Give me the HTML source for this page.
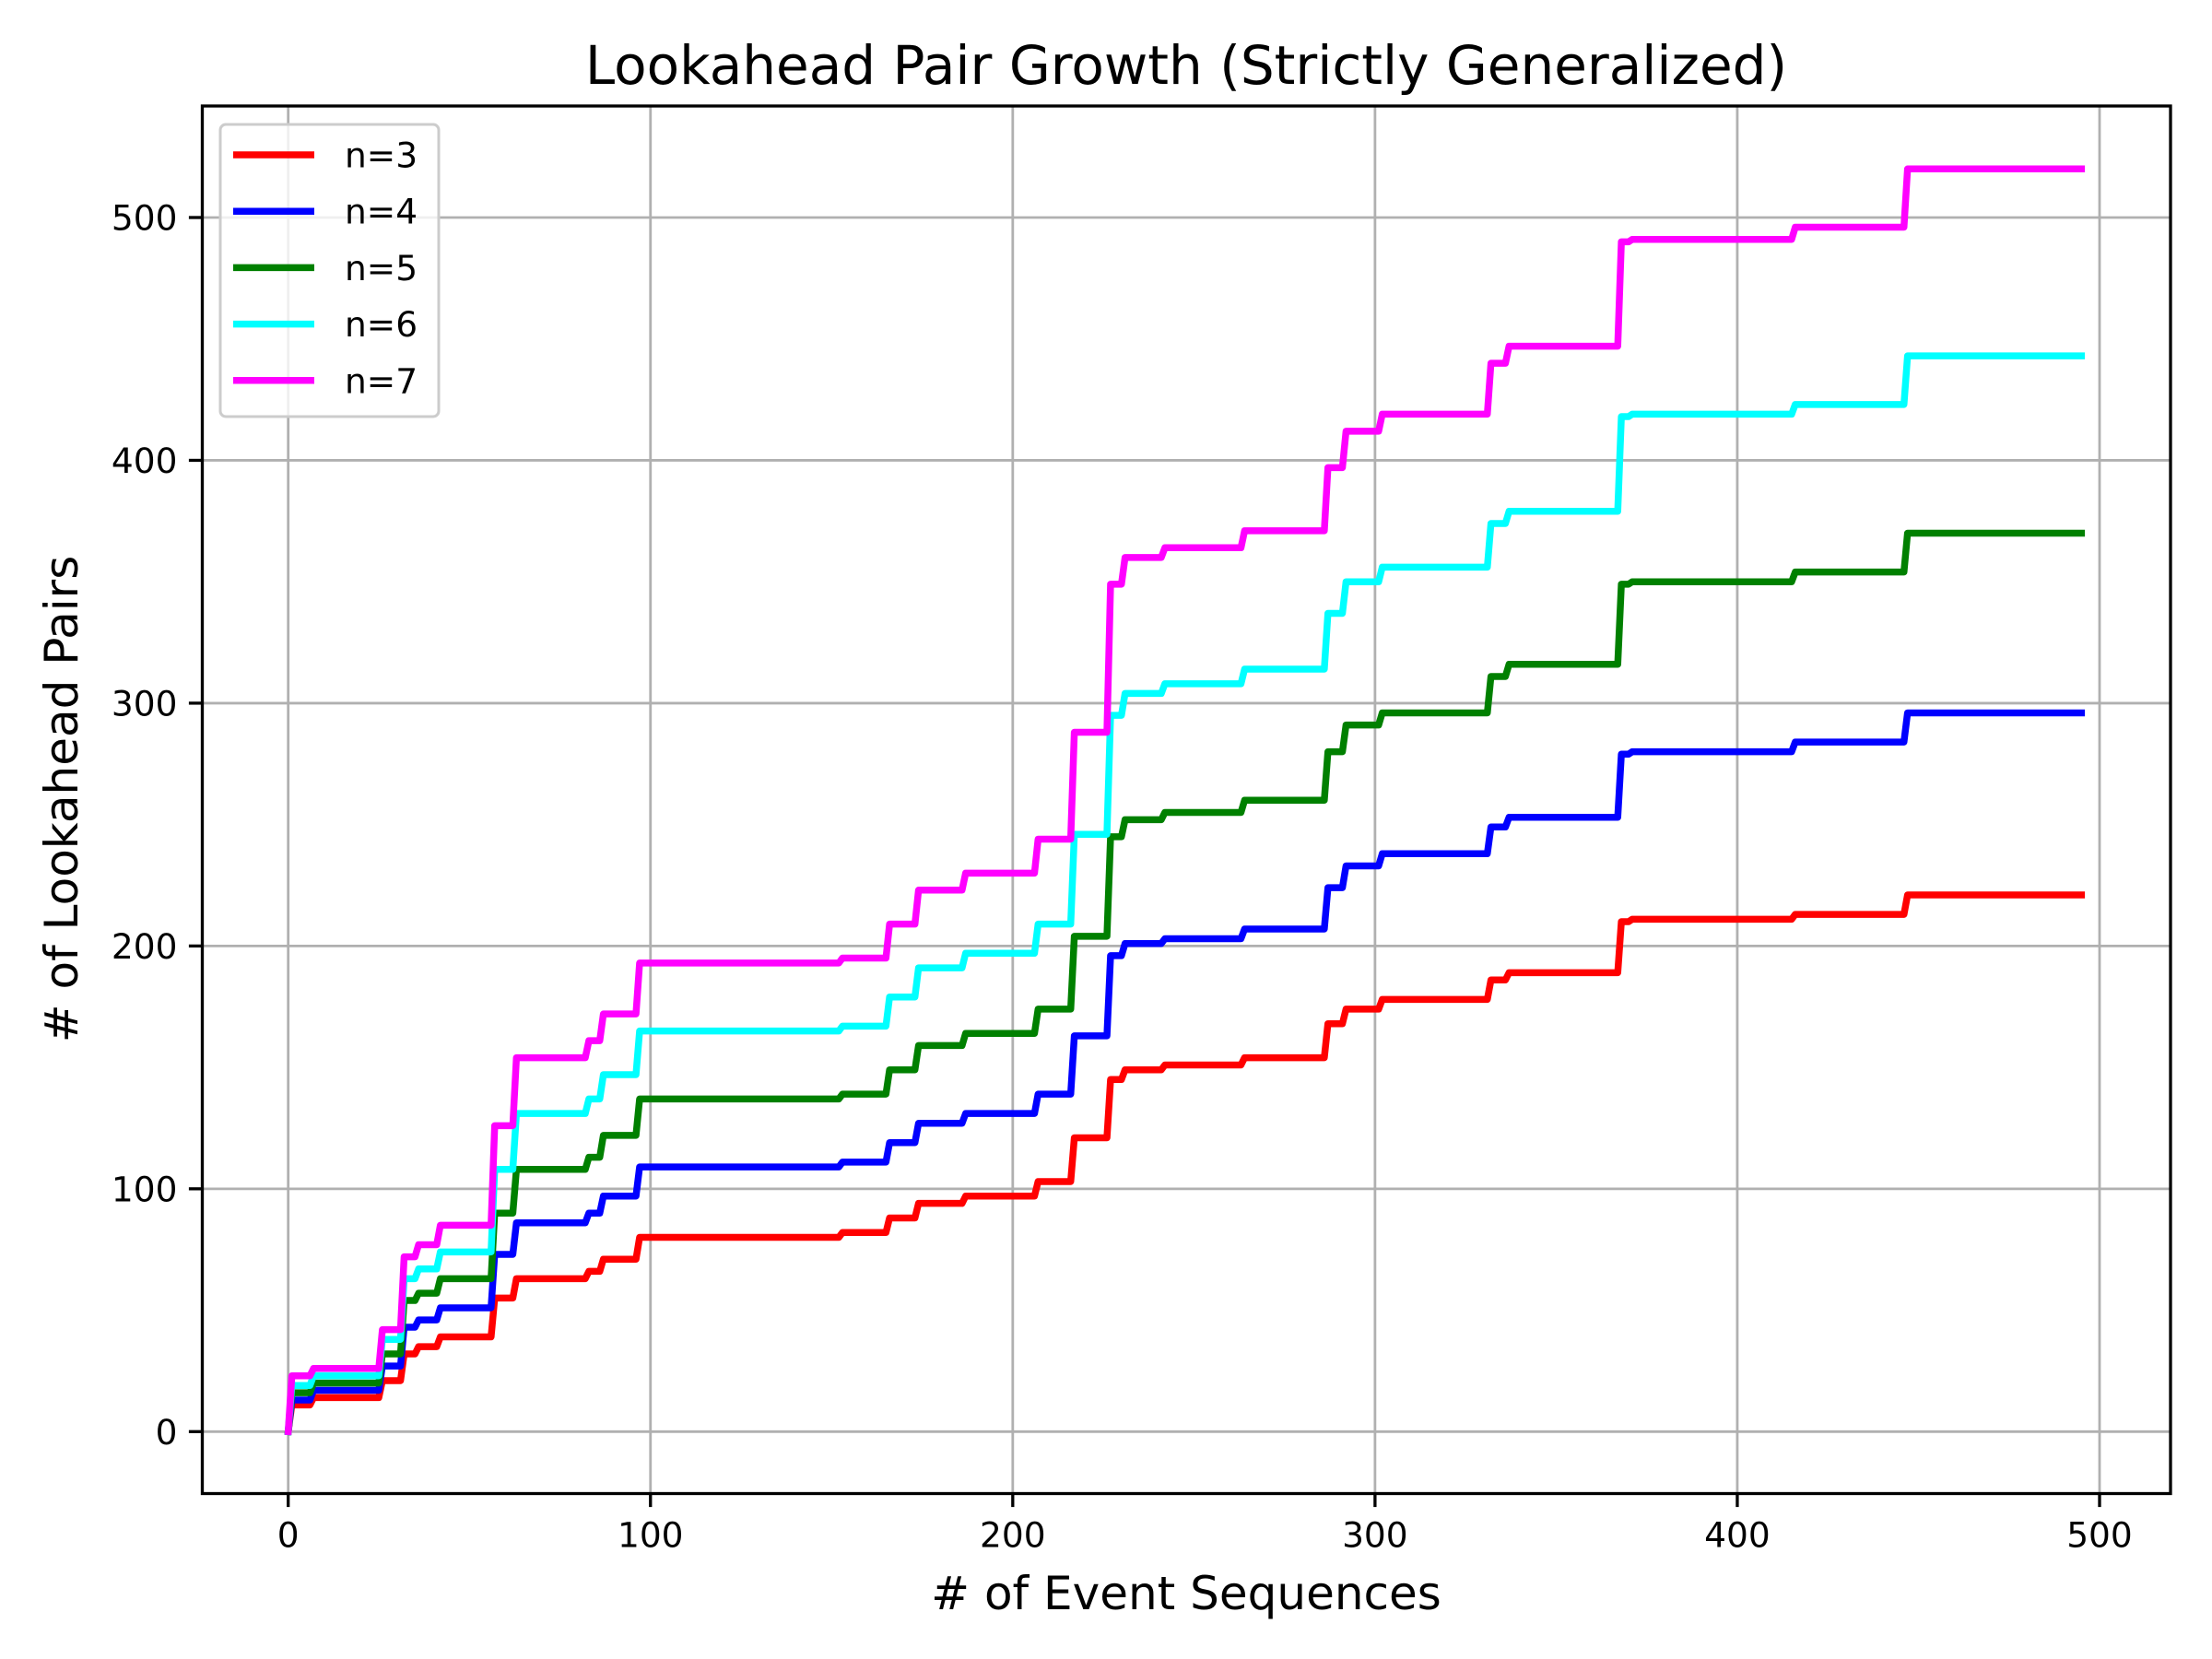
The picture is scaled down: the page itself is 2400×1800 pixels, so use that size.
<!DOCTYPE html>
<html><head><meta charset="utf-8"><style>
html,body{margin:0;padding:0;background:#fff;}
svg{display:block;font-family:"DejaVu Sans","Liberation Sans",sans-serif;}
</style></head><body>
<svg id="chart" width="2400" height="1800" viewBox="0 0 2400 1800" xmlns="http://www.w3.org/2000/svg">
<rect x="0" y="0" width="2400" height="1800" fill="#fff"/>
<g id="grid"></g>
<g id="series"></g>
<rect x="219.5" y="115" width="2135.5" height="1505.5" fill="none" stroke="#000" stroke-width="3.3"/>
<g id="ticks"></g>
<text x="1287" y="91" font-size="58" text-anchor="middle">Lookahead Pair Growth (Strictly Generalized)</text>
<text x="1287" y="1746" font-size="50" text-anchor="middle"># of Event Sequences</text>
<text x="0" y="0" font-size="50" text-anchor="middle" transform="translate(84,867) rotate(-90)"># of Lookahead Pairs</text>
<g id="legend"></g>
</svg>
<script>
const changeXs = [1,7,26,32,36,42,57,63,83,87,97,153,166,174,187,207,217,227,231,242,264,287,292,302,332,337,368,371,416,447];
const n3 = [11,14,21,32,35,39,55,63,66,71,80,82,88,94,97,103,121,145,149,151,154,168,174,178,186,189,210,211,213,221];
const n4 = [13,17,27,43,46,51,73,86,90,97,109,111,119,127,131,139,163,196,201,203,207,224,233,238,249,253,279,280,284,296];
const n5 = [16,20,32,54,57,63,90,108,113,122,137,139,149,159,164,174,204,245,252,255,260,280,291,296,311,316,349,350,354,370];
const n6 = [19,23,38,63,67,74,108,131,137,147,165,167,179,191,197,209,246,295,304,308,314,337,350,356,374,379,418,419,423,443];
const n7 = [23,26,42,72,77,85,126,154,161,172,193,195,209,223,230,244,288,349,360,364,371,397,412,419,440,447,490,491,496,520];
const seriesNames = ["n=3","n=4","n=5","n=6","n=7"];
const seriesColors = ["#ff0000","#0000ff","#008000","#00ffff","#ff00ff"];
const lastX = 495;
const xTicks = [0,100,200,300,400,500];
const yTicks = [0,100,200,300,400,500];

const NS="http://www.w3.org/2000/svg";
const L=219.5,R=2355,T=115,B=1620.5;
function xs(v){return 312.7+v*(2278-312.7)/500;}
function ys(v){return 1553.3-v*(1553.3-236)/500;}
function mk(tag,attrs,parent){const e=document.createElementNS(NS,tag);for(const k in attrs)e.setAttribute(k,attrs[k]);parent.appendChild(e);return e;}
const grid=document.getElementById('grid'),ticks=document.getElementById('ticks'),ser=document.getElementById('series'),leg=document.getElementById('legend');
xTicks.forEach(t=>{
  const x=xs(t);
  const g=mk('line',{x1:x,x2:x,y1:T,y2:B,stroke:'#b0b0b0','stroke-width':2.8},grid);
  
  
  const tk=mk('line',{x1:x,x2:x,y1:B,y2:B+14.6,stroke:'#000','stroke-width':3.3},ticks);
  
  
  const tx=mk('text',{x:x,y:B+58,'font-size':37.5,'text-anchor':'middle'},ticks);
  tx.textContent=t;
  
  
});
yTicks.forEach(t=>{
  const y=ys(t);
  const g=mk('line',{x1:L,x2:R,y1:y,y2:y,stroke:'#b0b0b0','stroke-width':2.8},grid);
  
  
  const tk=mk('line',{x1:L-14.6,x2:L,y1:y,y2:y,stroke:'#000','stroke-width':3.3},ticks);
  
  
  const tx=mk('text',{x:L-27,y:y+13.5,'font-size':37.5,'text-anchor':'end'},ticks);
  tx.textContent=t;
  
  
});
const allSeries=[n3,n4,n5,n6,n7];
allSeries.forEach((vals,si)=>{
  let pts=[[0,0]];
  let prev=0;
  changeXs.forEach((cx,i)=>{
    if(i>0) pts.push([cx-1,prev]);
    pts.push([cx,vals[i]]);
    prev=vals[i];
  });
  pts.push([lastX,prev]);
  const p=mk('polyline',{points:pts.map(q=>xs(q[0]).toFixed(2)+','+ys(q[1]).toFixed(2)).join(' '),fill:'none',stroke:seriesColors[si],'stroke-width':7.5,'stroke-linejoin':'round','stroke-linecap':'square'},ser);
  
  
});
const box=mk('rect',{x:239,y:135,width:237,height:317,rx:6,fill:'#fff','fill-opacity':0.8,stroke:'#cccccc','stroke-width':3},leg);


seriesNames.forEach((nm,i)=>{
  const y=168+i*61.2;
  const ln=mk('line',{x1:253,x2:341,y1:y,y2:y,stroke:seriesColors[i],'stroke-width':7.5},leg);
  
  
  const tx=mk('text',{x:374,y:y+13.5,'font-size':37.5},leg);
  tx.textContent=nm;
  
  
});
</script>
</body></html>
